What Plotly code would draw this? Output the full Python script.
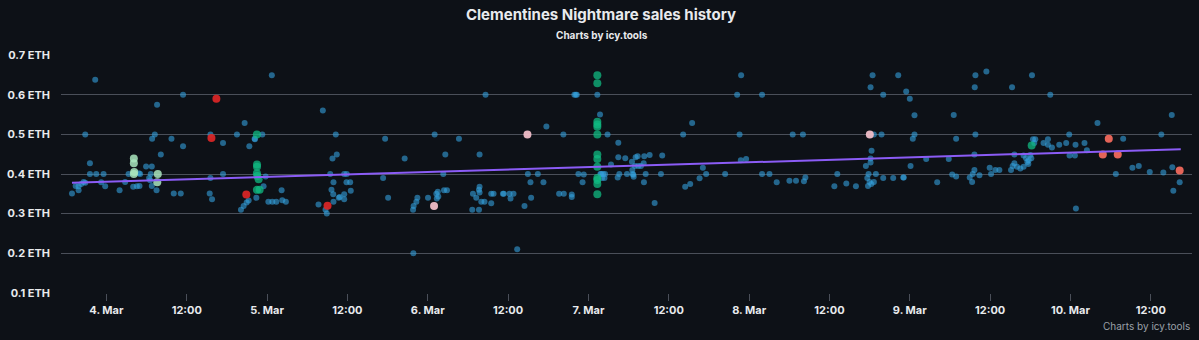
import pandas as pd
import plotly.graph_objects as go

BASE = pd.Timestamp("2022-03-04 00:00")

# ---- data (hours since 4 Mar 00:00, price in ETH) ----
blue_hours = [-1.67, 11.45, 7.57, 20.65, -3.16, 7.23, 15.54, 19.50, 23.29, 6.83, 9.72, 17.42, 22.14, 11.45, 21.35, 8.13, -2.46, 5.93, 6.78, 17.42, -2.46, -1.52, -0.42, 3.31, 5.04, 4.85, 6.63, -3.40, -3.76, -3.16, -5.14, -4.15, -4.15, -4.59, -0.78, -0.18, 1.97, 2.80, 4.00, 4.55, 4.95, 6.38, 6.53, 6.78, 7.49, 10.06, 11.11, 15.43, 15.78, 15.54, 20.10, 20.50, 20.95, 21.25, 22.40, 22.19, 23.48, 23.78, 24.19, 24.78, 25.38, 26.17, 26.27, 26.81,
              24.71, 56.63, 32.33, 65.72, 34.26, 41.63, 49.03, 52.66, 33.77, 34.41, 33.43, 35.52, 35.90, 33.92, 35.86, 36.41, 33.62, 33.88, 36.50, 35.52, 34.71, 34.85, 35.52, 33.92, 31.68, 32.73, 32.92, 41.33, 42.08, 44.55, 45.85, 45.81, 45.89, 46.30, 46.45, 48.04, 49.28, 49.50, 49.58, 49.35, 50.43, 50.87, 50.32, 50.62, 54.65, 55.65, 54.75, 55.24, 55.74, 55.65, 55.74, 55.99, 56.48, 55.74, 57.48, 57.83, 57.48, 59.23, 59.35, 60.21, 60.81, 60.36, 61.36, 62.45, 62.95, 64.44, 63.34, 65.28, 63.44, 67.62, 68.32, 69.51, 69.51, 70.50, 71.30, 71.12, 68.26, 69.90, 70.10, 70.26, 73.33, 73.73, 74.85, 76.46, 86.15, 87.49, 73.78, 73.90, 74.18, 74.48, 74.03, 74.40, 75.37, 76.46, 77.50, 78.50, 79.05, 79.35, 80.34, 81.14, 83.02, 78.55, 78.95, 79.44, 79.84, 80.25, 76.61, 77.76, 78.61, 78.70, 78.76, 76.37, 80.55, 82.83, 80.29, 81.89, 86.45, 87.20, 88.60, 89.09, 89.58,
              94.57, 102.51, 104.04, 114.63, 115.78, 94.76, 95.55, 92.42, 97.93, 99.04, 100.12, 102.02, 103.00, 104.19, 104.40, 109.17, 108.73, 110.52, 111.95, 113.44, 114.14, 114.14, 114.29, 113.84, 113.65, 113.99, 113.76, 114.63, 114.25, 114.93, 116.03, 117.52, 94.81, 114.44, 118.27, 94.21, 97.93, 114.14, 116.03,
              131.44, 129.80, 138.25, 119.46, 120.00, 129.70, 135.27, 140.98, 120.70, 126.56, 159.13, 148.03, 120.70, 120.45, 126.92, 129.80, 157.57, 151.87, 138.40, 138.74, 138.59, 139.98, 140.63, 140.63, 141.23, 142.32, 143.36, 143.81, 144.75, 146.09, 146.45, 144.66, 150.77, 144.81, 129.65, 135.62, 137.00, 137.36, 137.75, 138.00, 138.15, 137.55, 137.70, 137.00, 136.51, 136.01, 135.62, 135.36, 135.12, 133.38, 132.78, 132.14, 131.93, 130.40, 129.65, 129.40, 128.95, 129.31, 119.02, 119.10, 120.11, 122.45, 124.09, 125.82, 126.33, 126.92, 143.86, 153.25, 154.20, 155.84, 157.87, 159.21, 160.31, 159.36]
blue_eth = [0.638, 0.60, 0.575, 0.529, 0.50, 0.50, 0.50, 0.50, 0.50, 0.489, 0.489, 0.478, 0.489, 0.47, 0.47, 0.449, 0.427, 0.419, 0.419, 0.40, 0.40, 0.40, 0.40, 0.40, 0.40, 0.402, 0.40, 0.38, 0.375, 0.378, 0.351, 0.369, 0.359, 0.37, 0.379, 0.369, 0.359, 0.38, 0.368, 0.369, 0.37, 0.39, 0.384, 0.37, 0.359, 0.351, 0.351, 0.351, 0.336, 0.39, 0.31, 0.319, 0.328, 0.333, 0.34, 0.488, 0.369, 0.394, 0.33, 0.33, 0.33, 0.359, 0.334, 0.33,
            0.649, 0.60, 0.56, 0.52, 0.50, 0.489, 0.50, 0.489, 0.439, 0.449, 0.40, 0.40, 0.40, 0.379, 0.379, 0.379, 0.36, 0.349, 0.358, 0.349, 0.34, 0.342, 0.336, 0.33, 0.323, 0.31, 0.30, 0.39, 0.34, 0.439, 0.20, 0.31, 0.319, 0.33, 0.34, 0.34, 0.35, 0.355, 0.343, 0.338, 0.359, 0.359, 0.40, 0.449, 0.31, 0.31, 0.35, 0.34, 0.353, 0.36, 0.368, 0.33, 0.33, 0.449, 0.35, 0.35, 0.326, 0.35, 0.35, 0.35, 0.35, 0.338, 0.21, 0.319, 0.40, 0.40, 0.379, 0.379, 0.34, 0.35, 0.35, 0.348, 0.342, 0.40, 0.399, 0.379, 0.50, 0.60, 0.60, 0.60, 0.60, 0.55, 0.50, 0.479, 0.50, 0.529, 0.40, 0.40, 0.40, 0.40, 0.39, 0.39, 0.424, 0.442, 0.44, 0.431, 0.442, 0.445, 0.445, 0.448, 0.447, 0.41, 0.42, 0.42, 0.42, 0.427, 0.40, 0.40, 0.40, 0.398, 0.393, 0.391, 0.40, 0.40, 0.379, 0.327, 0.368, 0.375, 0.389, 0.416, 0.40,
            0.50, 0.50, 0.50, 0.50, 0.50, 0.435, 0.438, 0.40, 0.40, 0.40, 0.379, 0.383, 0.383, 0.382, 0.391, 0.40, 0.369, 0.376, 0.369, 0.42, 0.429, 0.439, 0.459, 0.40, 0.39, 0.38, 0.37, 0.38, 0.375, 0.40, 0.39, 0.39, 0.649, 0.649, 0.649, 0.60, 0.60, 0.619, 0.60,
            0.659, 0.649, 0.649, 0.608, 0.59, 0.619, 0.619, 0.60, 0.548, 0.549, 0.549, 0.529, 0.50, 0.489, 0.489, 0.50, 0.50, 0.489, 0.488, 0.488, 0.478, 0.478, 0.488, 0.474, 0.467, 0.474, 0.478, 0.50, 0.474, 0.478, 0.46, 0.447, 0.40, 0.313, 0.449, 0.449, 0.447, 0.44, 0.435, 0.448, 0.44, 0.43, 0.425, 0.418, 0.414, 0.418, 0.427, 0.42, 0.41, 0.41, 0.41, 0.40, 0.416, 0.397, 0.41, 0.40, 0.391, 0.38, 0.391, 0.391, 0.42, 0.438, 0.379, 0.438, 0.399, 0.394, 0.447, 0.416, 0.42, 0.405, 0.404, 0.417, 0.379, 0.358]

green_hours = [22.48, 22.50, 22.50, 22.48, 22.55, 22.74, 22.48, 22.89, 73.33, 73.33, 73.33, 73.33, 73.33, 73.33, 73.33, 73.33, 73.33, 73.33, 73.33, 73.33, 73.33, 138.2]
green_eth = [0.50, 0.424, 0.418, 0.402, 0.395, 0.387, 0.36, 0.36, 0.649, 0.629, 0.532, 0.525, 0.519, 0.50, 0.449, 0.438, 0.418, 0.39, 0.385, 0.375, 0.349, 0.472]

light_green_hours = [4.10, 4.10, 4.10, 4.15, 7.68, 7.60]
light_green_eth = [0.439, 0.427, 0.40, 0.405, 0.40, 0.379]

red_hours = [16.43, 15.69, 20.90, 33.03]
red_eth = [0.59, 0.491, 0.348, 0.32]

salmon_hours = [148.83, 149.72, 151.06, 160.31]
salmon_eth = [0.449, 0.489, 0.449, 0.409]

pink_hours = [62.89, 48.94, 114.03]
pink_eth = [0.50, 0.319, 0.50]

trend_hours = [-5.14, 160.47]
trend_eth = [0.3776, 0.4627]

tick_hours = [0, 12, 24, 36, 48, 60, 72, 84, 96, 108, 120, 132, 144, 156]
tick_labels = ["4. Mar", "12:00", "5. Mar", "12:00", "6. Mar", "12:00", "7. Mar",
               "12:00", "8. Mar", "12:00", "9. Mar", "12:00", "10. Mar", "12:00"]
y_ticks = [0.1, 0.2, 0.3, 0.4, 0.5, 0.6, 0.7]


def to_time(hours):
    return [BASE + pd.Timedelta(hours=h) for h in hours]


BG = "#0d1117"
GRID = "#4a4f59"
TXT = "#e8eaed"
FONT = "Inter"

fig = go.Figure()


def add_points(hours, eth, color, size):
    fig.add_trace(go.Scatter(
        x=to_time(hours), y=eth, mode="markers",
        marker=dict(color=color, size=size, line=dict(width=0)),
        hoverinfo="skip", showlegend=False))


add_points(blue_hours, blue_eth, "rgba(52,160,220,0.6)", 6)
add_points(green_hours, green_eth, "rgba(16,185,129,0.75)", 8)
add_points(light_green_hours, light_green_eth, "rgba(170,230,190,0.85)", 8)
add_points(red_hours, red_eth, "rgba(215,38,38,0.95)", 8)
add_points(salmon_hours, salmon_eth, "rgba(240,105,92,0.95)", 8)
add_points(pink_hours, pink_eth, "rgba(240,190,200,0.95)", 8)

fig.add_trace(go.Scatter(
    x=to_time(trend_hours), y=trend_eth, mode="lines",
    line=dict(color="#8b5cf6", width=2), hoverinfo="skip", showlegend=False))

fig.update_layout(
    width=1199, height=340,
    margin=dict(l=59, r=7, t=55, b=47),
    paper_bgcolor=BG, plot_bgcolor=BG,
    font=dict(family=FONT, color=TXT),
    title=dict(text="Clementines Nightmare sales history",
               x=601 / 1199, xref="container", xanchor="center",
               y=1 - 15 / 340, yref="container", yanchor="middle",
               font=dict(family=FONT, size=15, color=TXT, weight="bold")),
    annotations=[
        dict(text="Charts by icy.tools", xref="paper", yref="paper",
             x=(601 - 59) / 1133, y=(293 - 35) / 238, xanchor="center", yanchor="middle",
             showarrow=False, font=dict(family=FONT, size=10, color=TXT, weight="bold")),
        dict(text="Charts by icy.tools", xref="paper", yref="paper",
             x=1.0, y=(293 - 326) / 238, xanchor="right", yanchor="middle",
             showarrow=False, font=dict(family=FONT, size=10, color="#9aa0a8")),
    ],
    xaxis=dict(
        type="date",
        range=[BASE + pd.Timedelta(hours=-6.78), BASE + pd.Timedelta(hours=162.15)],
        tickvals=to_time(tick_hours), ticktext=tick_labels,
        showgrid=False, zeroline=False, showline=False,
        ticks="outside", ticklen=7, tickcolor=GRID, tickwidth=1,
        tickfont=dict(family=FONT, size=11, color=TXT, weight="bold"),
    ),
    yaxis=dict(
        range=[0.0996, 0.7004],
        tickvals=y_ticks, ticktext=[f"{v:.1f} ETH" for v in y_ticks],
        showgrid=True, gridcolor=GRID, gridwidth=1,
        zeroline=False, showline=False,
        ticklabelstandoff=10,
        tickfont=dict(family=FONT, size=11, color=TXT, weight="bold"),
    ),
)

fig.write_html("out.html")
